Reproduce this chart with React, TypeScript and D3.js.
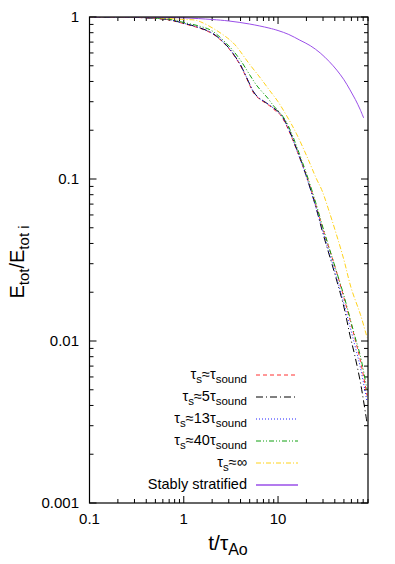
import React from "react";
import * as d3 from "d3";

const W = 395, H = 564;
const M = { left: 89.5, right: 368, top: 17, bottom: 503 };

const xTicks = [0.1, 1, 10];
const xTickLabels = ["0.1", "1", "10"];
const yTicks = [1, 0.1, 0.01, 0.001];
const yTickLabels = ["1", "0.1", "0.01", "0.001"];

const redT = [0.1, 0.2, 0.3, 0.5, 0.7, 1, 1.5, 2, 2.6, 3.2, 4, 4.5, 5, 5.5, 6.2, 7, 8.2, 9.3, 10.5, 12, 14, 16, 18, 20, 25, 30, 40, 50, 65, 75, 88];
const redE = [1, 0.998, 0.995, 0.98, 0.96, 0.91, 0.85, 0.79, 0.7, 0.61, 0.5, 0.435, 0.38, 0.34, 0.315, 0.3, 0.282, 0.265, 0.25, 0.22, 0.18, 0.148, 0.124, 0.105, 0.07, 0.049, 0.029, 0.0185, 0.0105, 0.0075, 0.0046];

const blackT = [0.1, 0.2, 0.3, 0.5, 0.7, 1, 1.5, 2, 2.6, 3.2, 4, 4.5, 5, 5.5, 6.2, 7, 8.2, 9.3, 10.5, 12, 14, 16, 18, 20, 25, 30, 40, 50, 58, 65, 75, 88];
const blackE = [1, 0.998, 0.995, 0.981, 0.962, 0.915, 0.855, 0.795, 0.705, 0.615, 0.505, 0.44, 0.385, 0.345, 0.318, 0.303, 0.285, 0.27, 0.255, 0.225, 0.183, 0.15, 0.124, 0.104, 0.068, 0.046, 0.026, 0.0162, 0.0108, 0.0082, 0.0055, 0.0031];

const blueT = [0.1, 0.2, 0.3, 0.5, 0.7, 1, 1.5, 2, 2.6, 3.2, 4, 4.5, 5, 5.5, 6.2, 7, 8.2, 9.3, 10.5, 12, 14, 16, 18, 20, 25, 30, 40, 50, 65, 75, 88];
const blueE = [1, 0.998, 0.995, 0.982, 0.963, 0.915, 0.855, 0.795, 0.705, 0.615, 0.505, 0.44, 0.385, 0.345, 0.318, 0.303, 0.285, 0.268, 0.252, 0.222, 0.182, 0.148, 0.123, 0.103, 0.068, 0.047, 0.027, 0.017, 0.0095, 0.0068, 0.0042];

const greenT = [0.1, 0.2, 0.3, 0.5, 0.7, 1, 1.5, 2, 3.1, 4, 5, 6, 7.8, 9, 10.5, 12, 14, 16, 20, 25, 30, 40, 50, 65, 75, 88];
const greenE = [1, 0.998, 0.996, 0.985, 0.968, 0.925, 0.875, 0.82, 0.65, 0.54, 0.44, 0.375, 0.315, 0.282, 0.256, 0.23, 0.19, 0.155, 0.108, 0.072, 0.05, 0.029, 0.019, 0.0108, 0.008, 0.005];

const yellowT = [0.1, 0.3, 0.5, 1, 1.3, 1.5, 2.2, 3.1, 3.6, 5, 6.5, 8.2, 10, 13.4, 15.7, 20, 25.6, 29, 34, 49, 60, 75, 88];
const yellowE = [1, 0.998, 0.99, 0.965, 0.958, 0.935, 0.83, 0.72, 0.66, 0.51, 0.42, 0.35, 0.3, 0.226, 0.19, 0.14, 0.1, 0.086, 0.066, 0.033, 0.021, 0.0145, 0.0105];

const purpleT = [0.1, 0.3, 0.5, 1, 2, 3, 5, 8, 10, 13, 17, 22, 28, 35, 42, 50, 58, 66, 74, 81];
const purpleE = [1, 0.999, 0.996, 0.988, 0.965, 0.945, 0.905, 0.855, 0.825, 0.78, 0.72, 0.665, 0.6, 0.53, 0.47, 0.41, 0.355, 0.31, 0.27, 0.238];

const seriesNames = ["τs≈τsound", "τs≈5τsound", "τs≈13τsound", "τs≈40τsound", "τs≈∞", "Stably stratified"];
const legendMid = ["", "5", "13", "40", "", ""];
const colors = ["#ff3030", "#000000", "#2020ff", "#10a010", "#ffd21a", "#9a4fe8"];
const dashes = ["4,3", "7,3,1,3", "1,2", "5,2,1,2,1,2", "5,2,1,2", ""];
const series = [
  [redT, redE], [blackT, blackE], [blueT, blueE], [greenT, greenE], [yellowT, yellowE], [purpleT, purpleE],
];

export default function App() {
  const x = d3.scaleLog().domain([0.1, 90]).range([M.left, M.right]);
  const y = d3.scaleLog().domain([0.001, 1]).range([M.bottom, M.top]);
  const line = d3.line<[number, number]>().x(d => x(d[0])).y(d => y(d[1])).curve(d3.curveCatmullRom.alpha(0.5));

  const xMinor: number[] = [];
  for (const dec of [0.1, 1, 10]) for (let k = 2; k <= 9; k++) { const v = dec * k; if (v <= 90) xMinor.push(v); }
  const yMinor: number[] = [];
  for (const dec of [0.001, 0.01, 0.1]) for (let k = 2; k <= 9; k++) yMinor.push(dec * k);

  const font = "Liberation Sans, Arial, sans-serif";
  const legendX = 247, legendLine0 = 256, legendLine1 = 298;
  const legendY0 = 375, legendDy = 22;

  return (
    <svg width={W} height={H} style={{ position: "absolute", left: 0, top: 0 }} fontFamily={font}>
      <rect x={0} y={0} width={W} height={H} fill="#fff" />
      <defs>
        <clipPath id="clip"><rect x={M.left} y={M.top} width={M.right - M.left} height={M.bottom - M.top} /></clipPath>
      </defs>
      {xTicks.map(v => (
        <g key={"xt" + v}>
          <line x1={x(v)} x2={x(v)} y1={M.bottom} y2={M.bottom - 7} stroke="#000" />
          <line x1={x(v)} x2={x(v)} y1={M.top} y2={M.top + 7} stroke="#000" />
        </g>
      ))}
      {xMinor.map(v => (
        <g key={"xm" + v}>
          <line x1={x(v)} x2={x(v)} y1={M.bottom} y2={M.bottom - 4} stroke="#000" />
          <line x1={x(v)} x2={x(v)} y1={M.top} y2={M.top + 4} stroke="#000" />
        </g>
      ))}
      {yTicks.map(v => (
        <g key={"yt" + v}>
          <line x1={M.left} x2={M.left + 7} y1={y(v)} y2={y(v)} stroke="#000" />
          <line x1={M.right} x2={M.right - 7} y1={y(v)} y2={y(v)} stroke="#000" />
        </g>
      ))}
      {yMinor.map(v => (
        <g key={"ym" + v}>
          <line x1={M.left} x2={M.left + 4} y1={y(v)} y2={y(v)} stroke="#000" />
          <line x1={M.right} x2={M.right - 4} y1={y(v)} y2={y(v)} stroke="#000" />
        </g>
      ))}
      {xTicks.map((v, i) => (
        <text key={"xl" + v} x={x(v)} y={524} fontSize={15} textAnchor="middle">{xTickLabels[i]}</text>
      ))}
      {yTicks.map((v, i) => (
        <text key={"yl" + v} x={79} y={y(v) + 5} fontSize={15} textAnchor="end">{yTickLabels[i]}</text>
      ))}
      <g clipPath="url(#clip)">
        {series.map((s, i) => {
          const pts = s[0].map((t, j) => [t, s[1][j]] as [number, number]);
          return <path key={"s" + i} d={line(pts) || ""} fill="none" stroke={colors[i]} strokeWidth={1} strokeDasharray={dashes[i] || undefined} />;
        })}
      </g>
      {seriesNames.map((n, i) => {
        const yy = legendY0 + i * legendDy;
        let label: React.ReactNode;
        if (i === 5) label = <tspan>Stably stratified</tspan>;
        else if (i === 4) label = <>
          <tspan>τ</tspan><tspan dy={4} fontSize={11.5}>s</tspan><tspan dy={-4}>≈∞</tspan>
        </>;
        else label = <>
          <tspan>τ</tspan><tspan dy={4} fontSize={11.5}>s</tspan><tspan dy={-4}>≈{legendMid[i]}τ</tspan><tspan dy={4} fontSize={11.5}>sound</tspan>
        </>;
        return (
          <g key={"lg" + i}>
            <text x={legendX} y={yy + 4} fontSize={14.5} textAnchor="end">{label}</text>
            <line x1={legendLine0} x2={legendLine1} y1={yy} y2={yy} stroke={colors[i]} strokeWidth={i === 5 ? 1.5 : 1} strokeDasharray={dashes[i] || undefined} />
          </g>
        );
      })}
      <rect x={M.left} y={M.top} width={M.right - M.left} height={M.bottom - M.top} fill="none" stroke="#000" strokeWidth={1.2} />
      <text x={228} y={550} fontSize={21} textAnchor="middle">
        <tspan>t/τ</tspan><tspan dy={5} fontSize={16}>Ao</tspan>
      </text>
      <text transform="translate(24,262) rotate(-90)" fontSize={20} textAnchor="middle">
        <tspan>E</tspan><tspan dy={5} fontSize={15}>tot</tspan><tspan dy={-5}>/E</tspan><tspan dy={5} fontSize={15}>tot i</tspan>
      </text>
    </svg>
  );
}
